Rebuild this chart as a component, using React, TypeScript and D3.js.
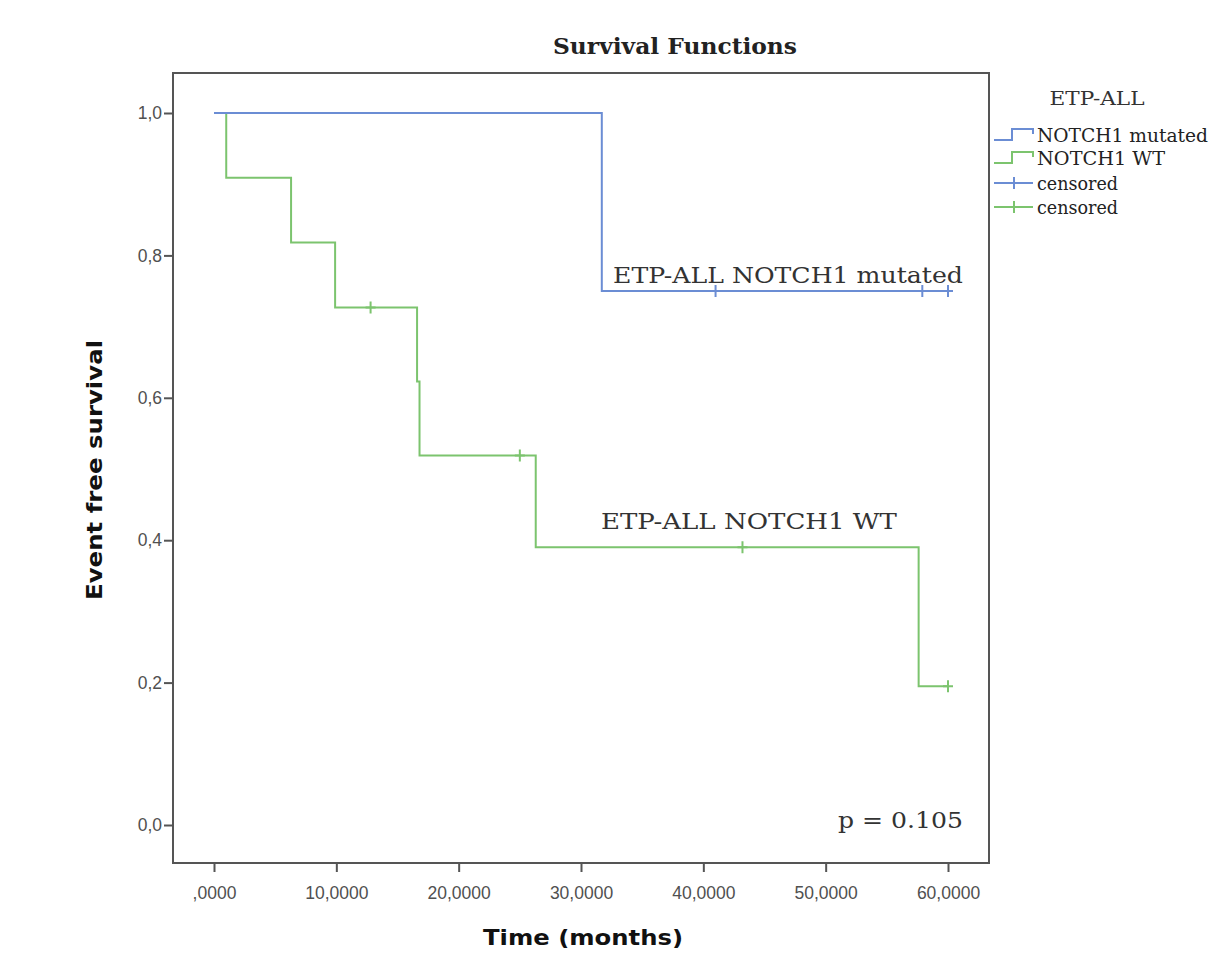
import React, { useRef, useEffect } from "react";
import { select, scaleLinear, axisLeft, axisBottom, line, curveStepAfter, format } from "d3";

// Kaplan-Meier steps (time in months, survival)
const mutatedTimes = [0, 31.7, 60];
const mutatedSurvival = [1.0, 0.75, 0.75];
const mutatedCensored = [41.0, 57.9, 60.0];

const wtTimes = [0, 1.0, 6.3, 9.9, 16.6, 16.8, 26.3, 57.6, 60];
const wtSurvival = [1.0, 0.909, 0.818, 0.727, 0.623, 0.519, 0.39, 0.195, 0.195];
const wtCensored = [12.8, 25.0, 43.2, 60.0];

const xTicks = [0, 10, 20, 30, 40, 50, 60];
const yTicks = [0, 0.2, 0.4, 0.6, 0.8, 1.0];

const legendLabels = ["NOTCH1 mutated", "NOTCH1 WT", "censored", "censored"];

const BLUE = "#6b8dd4";
const GREEN = "#7cc46e";

function survivalAt(times, surv, t) {
  let s = surv[0];
  times.forEach((tt, i) => {
    if (tt <= t) s = surv[i];
  });
  return s;
}

function App() {
  const svgRef = useRef();

  useEffect(() => {
    const svg = select(svgRef.current);
    svg.selectAll("*").remove();

    const frame = { left: 173, top: 73, right: 989, bottom: 863 };
    const x = scaleLinear().domain([0, 60]).range([214, 948]);
    const y = scaleLinear().domain([0, 1]).range([825, 113]);

    // frame
    svg
      .append("rect")
      .attr("x", frame.left)
      .attr("y", frame.top)
      .attr("width", frame.right - frame.left)
      .attr("height", frame.bottom - frame.top)
      .attr("fill", "white")
      .attr("stroke", "#555")
      .attr("stroke-width", 2);

    // axes
    const fmtX = (d) => format(".4f")(d).replace(/^0/, "").replace(".", ",");
    const fmtY = (d) => format(".1f")(d).replace(".", ",");

    const gx = svg
      .append("g")
      .attr("transform", `translate(0,${frame.bottom})`)
      .call(axisBottom(x).tickValues(xTicks).tickFormat(fmtX).tickSize(9).tickSizeOuter(0));
    const gy = svg
      .append("g")
      .attr("transform", `translate(${frame.left},0)`)
      .call(axisLeft(y).tickValues(yTicks).tickFormat(fmtY).tickSize(9).tickSizeOuter(0));

    [gx, gy].forEach((g) => {
      g.select(".domain").remove();
      g.selectAll(".tick line").attr("stroke", "#555").attr("stroke-width", 2);
      g.selectAll(".tick text")
        .attr("fill", "#505050")
        .style("font-family", "'Liberation Sans', Arial, sans-serif")
        .style("font-size", "17.5px");
    });
    gx.selectAll(".tick text").attr("dy", "1.35em");
    gy.selectAll(".tick text").attr("x", -11);

    // curves
    const stepLine = line()
      .x((d) => x(d[0]))
      .y((d) => y(d[1]))
      .curve(curveStepAfter);

    const series = [
      { times: mutatedTimes, surv: mutatedSurvival, cens: mutatedCensored, color: BLUE },
      { times: wtTimes, surv: wtSurvival, cens: wtCensored, color: GREEN },
    ];

    // draw WT first so mutated line sits on top at 1.0
    [series[1], series[0]].forEach((s) => {
      const pts = s.times.map((t, i) => [t, s.surv[i]]);
      svg
        .append("path")
        .attr("d", stepLine(pts))
        .attr("fill", "none")
        .attr("stroke", s.color)
        .attr("stroke-width", 2);

      s.cens.forEach((t) => {
        const cx = x(t);
        const cy = y(survivalAt(s.times, s.surv, t));
        svg
          .append("path")
          .attr("d", `M${cx},${cy - 6}V${cy + 6}M${cx - 5},${cy}H${cx + 5}`)
          .attr("stroke", s.color)
          .attr("stroke-width", 2);
      });
    });

    const serif = "'DejaVu Serif', 'Liberation Serif', serif";
    const sans = "'DejaVu Sans', Verdana, sans-serif";

    // title
    svg
      .append("text")
      .attr("x", 675)
      .attr("y", 54)
      .attr("text-anchor", "middle")
      .attr("textLength", 244)
      .attr("lengthAdjust", "spacingAndGlyphs")
      .style("font-family", serif)
      .style("font-weight", "bold")
      .style("font-size", "22px")
      .attr("fill", "#222")
      .text("Survival Functions");

    // axis titles
    svg
      .append("text")
      .attr("x", 583)
      .attr("y", 945)
      .attr("text-anchor", "middle")
      .attr("textLength", 200)
      .attr("lengthAdjust", "spacingAndGlyphs")
      .style("font-family", sans)
      .style("font-weight", "bold")
      .style("font-size", "22px")
      .attr("fill", "#111")
      .text("Time (months)");

    svg
      .append("text")
      .attr("transform", "translate(102,470) rotate(-90)")
      .attr("text-anchor", "middle")
      .attr("textLength", 260)
      .attr("lengthAdjust", "spacingAndGlyphs")
      .style("font-family", sans)
      .style("font-weight", "bold")
      .style("font-size", "22px")
      .attr("fill", "#111")
      .text("Event free survival");

    // in-plot annotations
    const notes = [
      { text: "ETP-ALL NOTCH1 mutated", x: 613, y: 283, len: 350 },
      { text: "ETP-ALL NOTCH1 WT", x: 601, y: 529, len: 296 },
      { text: "p = 0.105", x: 838, y: 828, len: 125 },
    ];
    notes.forEach((n) => {
      svg
        .append("text")
        .attr("x", n.x)
        .attr("y", n.y)
        .attr("textLength", n.len)
        .attr("lengthAdjust", "spacingAndGlyphs")
        .style("font-family", serif)
        .style("font-size", "23px")
        .attr("fill", "#333")
        .text(n.text);
    });

    // legend
    const lg = svg.append("g");
    lg.append("text")
      .attr("x", 1097)
      .attr("y", 105)
      .attr("text-anchor", "middle")
      .attr("textLength", 95)
      .attr("lengthAdjust", "spacingAndGlyphs")
      .style("font-family", serif)
      .style("font-size", "19px")
      .attr("fill", "#333")
      .text("ETP-ALL");

    const rowY = [135, 158, 183, 207];
    const rowColor = [BLUE, GREEN, BLUE, GREEN];
    const rowLen = [171, 128, 81, 81];
    legendLabels.forEach((label, i) => {
      const cy = rowY[i];
      if (i < 2) {
        lg.append("path")
          .attr("d", `M994,${cy + 5}H1012V${cy - 6}H1033V${cy - 1}`)
          .attr("fill", "none")
          .attr("stroke", rowColor[i])
          .attr("stroke-width", 2);
      } else {
        lg.append("path")
          .attr("d", `M994,${cy}H1033M1014,${cy - 6}V${cy + 6}`)
          .attr("stroke", rowColor[i])
          .attr("stroke-width", 2);
      }
      lg.append("text")
        .attr("x", 1037)
        .attr("y", cy + 7)
        .attr("textLength", rowLen[i])
        .attr("lengthAdjust", "spacingAndGlyphs")
        .style("font-family", serif)
        .style("font-size", "18px")
        .attr("fill", "#222")
        .text(label);
    });
  }, []);

  return (
    <div>
      <svg
        ref={svgRef}
        width={1213}
        height={954}
        style={{ position: "absolute", left: 0, top: 0, background: "white" }}
      ></svg>
    </div>
  );
}

export default App;
